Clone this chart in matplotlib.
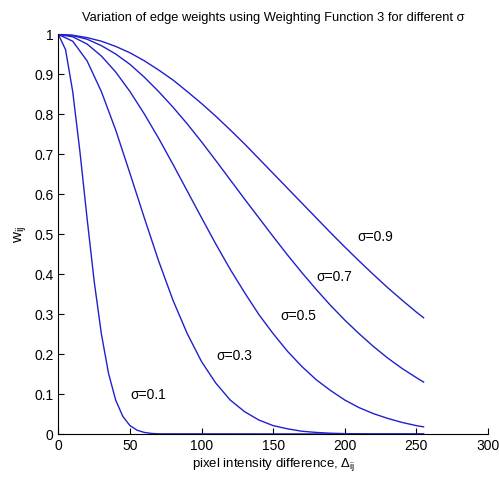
import matplotlib
matplotlib.use("Agg")
import matplotlib.pyplot as plt

plt.rcParams['font.family'] = ['Liberation Sans', 'DejaVu Sans']
plt.rcParams['mathtext.fontset'] = 'custom'
plt.rcParams['mathtext.rm'] = 'Liberation Sans'
plt.rcParams['mathtext.it'] = 'Liberation Sans'

# pixel intensity differences (x) and weights
x_fine = [0, 5, 10, 15, 20, 25, 30, 35, 40, 45, 50, 55, 60, 65, 70, 255]
w_s01 = [1.0, 0.962, 0.857, 0.708, 0.541, 0.382, 0.251, 0.152, 0.085, 0.044,
         0.021, 0.0095, 0.004, 0.0015, 0.0005, 0.0]

x_coarse = [0, 10, 20, 30, 40, 50, 60, 70, 80, 90, 100, 110, 120, 130, 140,
            150, 160, 170, 180, 190, 200, 210, 220, 230, 240, 250, 255]
w_s03 = [1.0, 0.983, 0.934, 0.857, 0.761, 0.652, 0.541, 0.433, 0.335, 0.251,
         0.181, 0.127, 0.085, 0.056, 0.035, 0.021, 0.013, 0.007, 0.004, 0.002,
         0.001, 0.0005, 0.0, 0.0, 0.0, 0.0, 0.0]
w_s05 = [1.0, 0.994, 0.976, 0.946, 0.906, 0.857, 0.801, 0.740, 0.675, 0.608,
         0.541, 0.475, 0.412, 0.354, 0.299, 0.251, 0.207, 0.169, 0.136, 0.109,
         0.085, 0.066, 0.051, 0.039, 0.029, 0.021, 0.018]
w_s07 = [1.0, 0.997, 0.988, 0.972, 0.951, 0.925, 0.893, 0.857, 0.818, 0.776,
         0.731, 0.684, 0.636, 0.588, 0.541, 0.494, 0.448, 0.404, 0.362, 0.322,
         0.285, 0.251, 0.219, 0.190, 0.164, 0.141, 0.130]
w_s09 = [1.0, 0.998, 0.992, 0.983, 0.970, 0.954, 0.934, 0.911, 0.886, 0.857,
         0.827, 0.795, 0.761, 0.726, 0.689, 0.652, 0.615, 0.578, 0.541, 0.504,
         0.468, 0.433, 0.399, 0.366, 0.335, 0.305, 0.291]

labels = ["σ=0.1", "σ=0.3", "σ=0.5", "σ=0.7", "σ=0.9"]
label_x = [50, 110, 155, 180, 209]
label_y = [0.098, 0.195, 0.295, 0.393, 0.493]

xticks = [0, 50, 100, 150, 200, 250, 300]
yticks = [0, 0.1, 0.2, 0.3, 0.4, 0.5, 0.6, 0.7, 0.8, 0.9, 1]
ytick_labels = ["0", "0.1", "0.2", "0.3", "0.4", "0.5", "0.6", "0.7", "0.8", "0.9", "1"]

fig = plt.figure(figsize=(4.99, 4.78), dpi=100)
ax = fig.add_axes([0.117, 0.092, 0.861, 0.836])

color = '#2020cc'
ax.plot(x_fine, w_s01, color=color, lw=1.0)
for ys in [w_s03, w_s05, w_s07, w_s09]:
    ax.plot(x_coarse, ys, color=color, lw=1.0)

for t, lx, ly in zip(labels, label_x, label_y):
    ax.text(lx, ly, t, fontsize=10, ha='left', va='center', color='black')

ax.set_xlim(0, 300)
ax.set_ylim(0, 1)
ax.set_xticks(xticks)
ax.set_yticks(yticks)
ax.set_yticklabels(ytick_labels)
ax.tick_params(direction='in', length=4, labelsize=10, width=0.8)
ax.spines['top'].set_visible(False)
ax.spines['right'].set_visible(False)

ax.set_title("Variation of edge weights using Weighting Function 3 for different σ",
             fontsize=9.3, pad=10)
ax.set_xlabel(r'pixel intensity difference, $\Delta_{\mathrm{ij}}$', fontsize=9.5, labelpad=2)
ax.set_ylabel(r'$\mathrm{w_{ij}}$', fontsize=11, labelpad=4)

fig.savefig("out.png", dpi=100)
